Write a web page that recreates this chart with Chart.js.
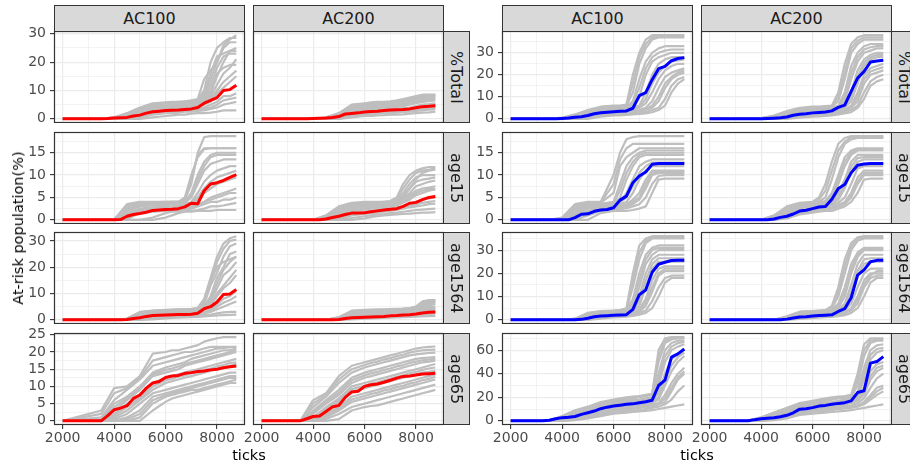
<!DOCTYPE html>
<html>
<head>
<meta charset="utf-8">
<script src="https://cdn.jsdelivr.net/npm/chart.js@4.4.1/dist/chart.umd.min.js"></script>
<style>
  html, body { margin: 0; padding: 0; background: #fff; }
  body { width: 910px; height: 465px; position: relative; overflow: hidden; font-family: "DejaVu Sans", sans-serif; }
  canvas { position: absolute; }
  .strip { position: absolute; box-sizing: border-box; background: #D9D9D9; border: 1px solid #333; color: #1A1A1A;
           font-size: 16px; display: flex; align-items: center; justify-content: center; }
  .strip.side span { writing-mode: vertical-rl; }
  .title { position: absolute; color: #000; font-size: 14.5px; white-space: nowrap; transform: translate(-50%, -50%); }
</style>
</head>
<body>
<script>
/* ---------- facet labels + tick labels ---------- */
const colLabels = ["AC100", "AC200"];
const rowLabels = ["%Total", "age15", "age1564", "age65"];
const xTicks = [2000, 4000, 6000, 8000];
const yTicksLeft  = [[0, 10, 20, 30], [0, 5, 10, 15], [0, 10, 20, 30], [0, 5, 10, 15, 20, 25]];
const yTicksRight = [[0, 10, 20, 30], [0, 5, 10, 15], [0, 10, 20, 30], [0, 20, 40, 60]];

/* ---------- x positions (ticks) ---------- */
const runTicks  = [2000, 3500, 4000, 4500, 5000, 5500, 6000, 6250, 6500, 6750, 7000, 7250, 7500, 7750, 8000, 8250, 8500, 8750];
const meanTicks = [2000, 2250, 2500, 2750, 3000, 3250, 3500, 3750, 4000, 4250, 4500, 4750, 5000, 5250,
                   5500, 5750, 6000, 6250, 6500, 6750, 7000, 7250, 7500, 7750, 8000, 8250, 8500, 8750];

/* ---------- left plot (red mean) ---------- */
const meanL_total_100 = [0,0,0,0,0,0,0,0.1,0.3,0.4,0.5,1.0,1.3,2.0,2.5,2.7,2.9,3.0,3.1,3.3,3.5,4.0,5.5,6.5,7.5,10.0,10.3,11.8];
const runsL_total_100 = [
  [0,0,0.5,2,4,5.5,5.8,6,6,6.2,6.5,7,14,17,20,26,28,29.5],
  [0,0,0,1,3,4.5,5,5,5.2,5.5,5.8,6,8,14,20,25,27,27],
  [0,0,0,0.5,2,3.5,4,4.2,4.5,4.8,5,5.5,6,9,15,20,24,25],
  [0,0,0.2,1.5,3,3.5,3.8,4,4,4.2,4.5,5,6,8,12,16,18,21],
  [0,0,0,0.3,1.5,2.5,3,3.2,3.5,3.6,3.8,4,5,6,9,11,13,15],
  [0,0,0,0,1,2,2.5,2.8,3,3,3.2,3.5,4,5,6,8,8,9],
  [0,0,0,0,0.5,1.5,2,2,2.2,2.5,2.5,2.8,3,3.5,4,5,5.5,6],
  [0,0,0,0,0,0.5,1,1.2,1.5,1.5,1.8,2,2,2.2,2.5,3,3,3],
  [0,0,0.3,1.5,3.5,5,5.5,5.5,5.8,6,6,6.5,9,16,22,23,24,24],
  [0,0,0,0.5,2.5,4,4.5,4.5,4.8,5,5.2,5.5,7,10,16,18,19,19],
  [0,0,0.4,1.8,3.8,5.2,5.6,5.8,6,6.1,6.3,6.8,10,20,25,27,28.5,28.5],
  [0,0,0,0.8,2.8,4.2,4.6,4.8,5,5.2,5.5,6,7,12,18,22,23,23],
  [0,0,0,0.2,1.2,2.8,3.2,3.5,3.8,4,4.2,4.5,5.5,7,10,13,15,17],
  [0,0,0,0,0.8,1.8,2.2,2.4,2.6,2.8,3,3.2,3.5,4,5,6.5,7,7.5]
];
const meanL_total_200 = [0,0,0,0,0,0,0,0,0.1,0.2,0.3,0.5,0.8,1.7,1.9,2.1,2.4,2.6,2.7,2.9,3.1,3.2,3.3,3.5,3.9,4.3,4.4,4.6];
const runsL_total_200 = [
  [0,0,0,0.5,2,5,5.5,5.8,6,6,6.2,6.5,7,7.5,8,8.5,8.5,8.5],
  [0,0,0,0.3,1.5,4.5,5,5,5.2,5.5,5.5,5.8,6,6.5,7.5,8,8,8],
  [0,0,0,0.2,1,3.5,4,4.2,4.5,4.5,4.8,5,5.2,5.5,6.5,7,7.2,7.5],
  [0,0,0,0,0.8,3,3.5,3.6,3.8,4,4,4.2,4.5,5,5.5,6,6.2,6.5],
  [0,0,0,0,0.5,2.5,3,3,3.2,3.3,3.5,3.6,3.8,4,4.5,5,5.2,5.5],
  [0,0,0,0,0.3,2,2.3,2.5,2.5,2.7,2.8,3,3,3.2,3.5,4,4,4.2],
  [0,0,0,0,0,1.2,1.5,1.6,1.8,2,2,2.2,2.4,2.5,2.8,3,3.2,3.3],
  [0,0,0,0,0,0.5,1,1,1.2,1.3,1.5,1.5,1.6,1.8,2,2.2,2.3,2.5],
  [0,0,0,0.3,1.2,4,4.5,4.6,4.8,5,5,5.2,5.5,6,7,7.5,7.8,8],
  [0,0,0,0,0.6,1.8,2,2.2,2.3,2.5,2.6,2.8,3,3.5,4,4.5,4.8,5],
  [0,0,0,0.4,1.8,4.8,5.3,5.4,5.6,5.8,5.9,6.2,6.5,7,7.8,8.2,8.3,8.3],
  [0,0,0,0.1,0.9,3.2,3.8,3.9,4.2,4.3,4.4,4.6,4.8,5.2,6,6.5,6.8,7],
  [0,0,0,0,0.4,2.2,2.7,2.8,2.9,3,3.2,3.3,3.4,3.6,4,4.5,4.6,4.8],
  [0,0,0,0,0.2,1.5,1.8,1.9,2,2.2,2.3,2.5,2.6,2.8,3.2,3.5,3.6,3.8]
];
const meanL_a15_100 = [0,0,0,0,0,0,0,0,0,0.05,0.8,1.2,1.4,1.7,2.1,2.2,2.3,2.35,2.5,2.9,3.7,3.6,6.5,8.0,8.3,8.8,9.5,10.1];
const runsL_a15_100 = [
  [0,0,0,3.5,4,4,4,4,4,4.5,8,15,18.5,18.7,18.7,18.7,18.7,18.7],
  [0,0,0,3,3.8,3.8,3.9,4,4,5,10,14,15.8,16,16,16,16,16],
  [0,0,0,2.5,3.5,3.6,3.7,3.8,3.8,4,6,10,13,14.5,15,15,15,15],
  [0,0,0,2,3,3.2,3.3,3.5,3.6,3.8,5,8,11,12.5,13,13.5,13.5,13.5],
  [0,0,0,1.5,2.5,2.8,3,3,3.2,3.5,4,6,8.5,10,11,11.5,12,12],
  [0,0,0,1,2,2.3,2.5,2.6,2.8,3,3.5,4.5,6,7,8,8.5,9,9.5],
  [0,0,0,0.5,1.8,2,2.2,2.3,2.5,2.6,3,3.5,4,5,5.5,6,6.5,7],
  [0,0,0,0.2,1.5,1.8,2,2,2,2.2,2.5,3,3.5,4,4,4.5,4.5,5],
  [0,0,0,0,0,0.5,1.5,1.8,1.8,2,2,2.2,2.5,3,3,3.2,3.5,3.8],
  [0,0,0,0,0,0,0.5,1,1.5,1.8,1.8,2,2,2,2.2,2.2,2.2,2.2],
  [0,0,0,3.2,3.9,3.9,4,4,4,4.8,9,14.5,16,16,16,16,16,16],
  [0,0,0,2.2,3.2,3.4,3.5,3.6,3.7,4,5.5,9,12,14,14.5,14.5,14.5,14.5],
  [0,0,0,1.2,2.2,2.5,2.7,2.8,3,3.2,3.8,5,7,8.5,9.5,10,10.5,11],
  [0,0,0,0.3,1.6,1.9,2.1,2.2,2.3,2.4,2.8,3.3,4,4.5,5,5.5,6,6]
];
const meanL_a15_200 = [0,0,0,0,0,0,0,0,0,0,0.2,0.5,0.8,1.2,1.5,1.55,1.6,1.8,2.0,2.2,2.35,2.5,3.0,3.7,3.9,4.5,5.0,5.2];
const runsL_a15_200 = [
  [0,0,0,1,3,3.8,4,4,4,4,4.2,5,8,10,11,11.5,11.8,11.8],
  [0,0,0,0.8,2.5,3.5,3.6,3.7,3.8,3.9,4,4.5,6,8,9.5,10,10,10],
  [0,0,0,0.5,2,3,3.2,3.3,3.5,3.6,3.7,4,5,7,8.5,9,9.2,9.5],
  [0,0,0,0.3,1.5,2.5,2.8,3,3,3.2,3.3,3.5,4.5,5.5,6.5,7,7.2,7.5],
  [0,0,0,0,1,2,2.3,2.5,2.6,2.8,3,3.2,3.8,4.5,5.5,6,6.5,6.8],
  [0,0,0,0,0.5,1.5,1.8,2,2.2,2.4,2.5,2.8,3,3.5,4,4.5,4.8,5],
  [0,0,0,0,0.2,1,1.3,1.5,1.6,1.8,2,2.2,2.5,2.8,3,3.2,3.5,3.6],
  [0,0,0,0,0,0.4,0.8,1,1.2,1.3,1.5,1.6,1.8,2,2.2,2.3,2.4,2.5],
  [0,0,0,0,0,0,0.3,0.6,0.8,1,1.1,1.2,1.3,1.4,1.5,1.6,1.6,1.7],
  [0,0,0,0.6,2,3.2,3.5,3.6,3.7,3.8,3.9,4.2,5.5,7,9,10.5,11,11.2],
  [0,0,0,0.9,2.8,3.6,3.8,3.9,3.9,4,4.1,4.8,7,9,10.5,11,11.2,11.5],
  [0,0,0,0.4,1.8,2.8,3,3.1,3.3,3.4,3.5,3.8,4.8,6,7.5,8,8.5,8.8],
  [0,0,0,0.1,1.2,2.2,2.5,2.7,2.8,3,3.1,3.4,4,5,6,6.5,6.8,7],
  [0,0,0,0,0.3,1.2,1.5,1.7,1.9,2,2.2,2.4,2.7,3,3.5,3.8,4,4.2]
];
const meanL_a1564_100 = [0,0,0,0,0,0,0,0,0,0,0.1,0.5,0.8,1.3,1.6,1.7,1.8,1.9,2.0,2.05,2.1,2.5,4.2,5.0,6.8,9.6,9.8,11.5];
const runsL_a1564_100 = [
  [0,0,0,0.5,3,3.5,3.8,3.9,4,4,4.2,4.5,8,16,24,29,31,31.8],
  [0,0,0,0.3,2.5,3.2,3.5,3.6,3.7,3.8,4,4.2,6,13,18,24,28,29],
  [0,0,0,0.2,2,3,3.2,3.3,3.4,3.5,3.6,3.8,5,9,16,20,25,26],
  [0,0,0,0,1.5,2.5,2.8,3,3,3.2,3.3,3.5,4.5,7,12,17,19,22],
  [0,0,0,0,1,2,2.3,2.5,2.6,2.7,2.8,3,4,5.5,9,12,14,17],
  [0,0,0,0,0.5,1.5,1.8,2,2.1,2.2,2.4,2.5,3,4,6,8,9,11],
  [0,0,0,0,0.2,1,1.3,1.5,1.6,1.7,1.8,2,2.5,3,4,5,6,7],
  [0,0,0,0,0,0.5,0.8,1,1.1,1.2,1.3,1.5,1.8,2,2.5,2.8,3,3],
  [0,0,0,0.3,2.8,3.4,3.6,3.8,3.9,4,4.1,4.4,7,15,20,22,23,24],
  [0,0,0,0,0,0.2,0.5,0.7,0.8,0.9,1,1.1,1.3,1.5,1.7,1.8,1.9,2],
  [0,0,0,0.4,2.7,3.3,3.6,3.7,3.8,3.9,4,4.3,6.5,14,22,27,30,30.5],
  [0,0,0,0.1,1.8,2.8,3,3.2,3.3,3.4,3.5,3.7,4.8,8,14,19,22,24],
  [0,0,0,0,1.2,2.2,2.5,2.7,2.8,2.9,3,3.2,4.2,6,10,13,16,19],
  [0,0,0,0,0.3,1.2,1.5,1.7,1.8,1.9,2,2.2,2.8,3.5,5,6.5,7.5,9]
];
const meanL_a1564_200 = [0,0,0,0,0,0,0,0,0,0,0,0,0.1,0.5,0.8,0.9,1.0,1.1,1.2,1.3,1.5,1.6,1.8,1.9,2.2,2.6,2.9,3.0];
const runsL_a1564_200 = [
  [0,0,0,0,1,3.5,3.8,3.9,4,4,4.1,4.2,4.3,4.5,5,7,7.5,7.5],
  [0,0,0,0,0.8,3,3.3,3.4,3.5,3.6,3.7,3.8,4,4.2,4.8,6,6.5,7],
  [0,0,0,0,0.5,2.5,2.8,3,3,3.1,3.2,3.3,3.5,3.8,4,5,5.5,6],
  [0,0,0,0,0.3,2,2.3,2.4,2.5,2.6,2.7,2.8,3,3.2,3.5,4.5,4.8,5],
  [0,0,0,0,0.2,1.5,1.8,1.9,2,2.1,2.2,2.3,2.5,2.7,3,3.5,3.8,4],
  [0,0,0,0,0,1,1.3,1.4,1.5,1.6,1.7,1.8,2,2.2,2.5,2.8,3,3.2],
  [0,0,0,0,0,0.5,0.8,0.9,1,1.1,1.2,1.3,1.4,1.6,1.8,2,2.2,2.4],
  [0,0,0,0,0,0.2,0.4,0.5,0.6,0.7,0.8,0.9,1,1.1,1.2,1.3,1.4,1.5],
  [0,0,0,0,0.7,2.8,3.1,3.2,3.3,3.4,3.5,3.6,3.8,4,4.5,6.5,7,7.2],
  [0,0,0,0,0.1,1.2,1.5,1.6,1.7,1.8,1.9,2,2.2,2.4,2.7,3.2,3.5,3.8],
  [0,0,0,0,0.9,3.2,3.5,3.6,3.7,3.8,3.9,4,4.2,4.4,4.9,6.5,7.2,7.3],
  [0,0,0,0,0.6,2.7,3,3.2,3.2,3.3,3.4,3.5,3.7,4,4.4,5.5,6,6.5],
  [0,0,0,0,0.3,1.8,2,2.2,2.2,2.3,2.4,2.5,2.8,3,3.2,4,4.3,4.5],
  [0,0,0,0,0,0.8,1,1.1,1.2,1.3,1.4,1.5,1.7,1.9,2.1,2.4,2.6,2.8]
];
const meanL_a65_100 = [0,0,0,0,0,0,0,1.5,3.2,3.7,4.4,6.5,7.5,9.5,11.0,11.4,12.6,13.0,13.2,13.8,14.0,14.3,14.5,14.8,15.0,15.4,15.7,15.9];
const runsL_a65_100 = [
  [0,3,9.5,10,13,19.5,20,20.5,20.5,21,21.5,22,23,23.5,24,24.3,24.3,24.3],
  [0,1,6,9,12,16,17,17.5,18,18.5,19,19.5,20,20.5,21,21.2,21.3,21.5],
  [0,0.5,5,7,10,14,15.5,16,16.5,17,18,18.5,19,19.5,20,20.5,20.5,21],
  [0,0,3,6,9,13,14,14.5,15,16,16.5,17,17.5,18,18.5,19,19.5,20],
  [0,0,2,5,7,11,12.5,13,13.5,14,14.5,15,15.5,16,16.5,17,17.5,18],
  [0,0,1,3,6,9,11,11.5,12,12.5,13,13.5,14,14.5,15,15.5,16,16.5],
  [0,0,0.5,2,5,8,9,9.5,10,10.5,11,11.5,12,12.5,13,13.5,14,14],
  [0,0,0,1,3,7,8,8.5,9,9.5,10,10.5,11,11.5,12,12.5,13,13],
  [0,0,0,0,1,5,7,7.5,8,8.5,9,9,9.5,10,10.5,11,11.5,12],
  [0,0,0,0,0,3,5.5,6.5,7,7.5,8,8.5,9,9.5,10,10.5,11,11],
  [0,2,8,9.5,12.5,17.5,18.5,19,19.5,20,20,20.5,21,21.5,21.5,21.5,21.5,21.5],
  [0,0.2,4,6.5,9.5,13.5,14.8,15.2,15.8,16.5,17,17.5,18,18.5,19,19.5,20,20.5],
  [0,0,1.5,4,6.5,10,11.8,12.2,12.8,13.2,13.8,14.2,14.8,15.2,15.8,16.2,16.8,17],
  [0,0,0,0.5,2,6,7.5,8,8.5,9,9.5,10,10.5,11,11.5,12,12.5,12.5]
];
const meanL_a65_200 = [0,0,0,0,0,0,0,0.6,1.25,1.4,2.7,4.0,4.5,6.8,8.4,8.6,10.0,10.5,10.7,11.2,11.8,12.4,12.9,13.0,13.3,13.6,13.7,13.8];
const runsL_a65_200 = [
  [0,0,6,8,13,16,17,17.5,18,18.5,19,19.5,20,20.5,21,21.3,21.5,21.6],
  [0,0,4,7,11,14,15.5,16,16.5,17,17.5,18,18.5,19,19.3,19.5,19.7,19.8],
  [0,0,3,6,9,12.5,14,14.5,15,15.5,16,16.5,17,17.5,18,18.2,18.4,18.5],
  [0,0,2,5,7.5,11,12.5,13,13.5,14,14.5,15,15.5,16,16.5,17,17.2,17.5],
  [0,0,1,4,6.5,10,11,11.5,12,12.5,13,13.5,14,14.5,15,15.5,16,16.5],
  [0,0,0.5,3,5.5,8.5,9.5,10,10.5,11,11.5,12,12.5,13,13.5,14,14.2,14.5],
  [0,0,0,2,4,7,8,8.5,9,9.5,10,10.5,11,11.5,12,12.5,13,13.5],
  [0,0,0,1,3,5.5,6.5,7,7.5,8,8.5,9,9.5,10,10.5,11,11.5,12],
  [0,0,0,0.5,2,4,5,5.5,6,6.5,7,7.5,8,8.5,9,9.5,10,10.5],
  [0,0,0,0,0.5,3,4,4.3,4.5,5,5.5,6,6.5,7,7.5,8,8.5,9],
  [0,0,5,7.5,12,15,16.2,16.8,17.2,17.8,18.2,18.8,19.2,19.8,20.2,20.5,20.6,20.7],
  [0,0,2.5,5.5,8.2,11.8,13.2,13.8,14.2,14.8,15.2,15.8,16.2,16.8,17.2,17.6,17.8,18],
  [0,0,0.8,3.5,6,9.2,10.2,10.8,11.2,11.8,12.2,12.8,13.2,13.8,14.2,14.8,15.2,15.5],
  [0,0,0,1.5,3.5,6.2,7.2,7.8,8.2,8.8,9.2,9.8,10.2,10.8,11.2,11.8,12.2,12.8]
];

/* ---------- right plot (blue mean) ---------- */
const meanR_total_100 = [0,0,0,0,0,0,0,0.05,0.2,0.35,0.7,0.9,1.5,2.3,2.8,3.0,3.2,3.4,3.6,4.8,10.5,11.9,17.8,22.8,23.8,26.4,27.4,27.8];
const runsR_total_100 = [
  [0,0,0.5,2,4,5.5,6,6,6.5,20,30,36,38,38,38,38,38,38],
  [0,0,0.3,1.5,3.5,5,5.5,5.5,6,12,25,32,36,37,37,37,37,37],
  [0,0,0.2,1,3,4.5,5,5,5.5,8,18,26,30,32,33,33,33,33],
  [0,0,0,0.8,2.5,4,4.5,4.6,5,6,10,20,26,28,29,30,30,30],
  [0,0,0,0.5,2,3.5,4,4.2,4.5,5,6,12,20,25,27,28,28,28],
  [0,0,0,0.3,1.5,3,3.5,3.6,3.8,4.2,5,7,12,18,22,24,25,25],
  [0,0,0,0.2,1,2.5,3,3.1,3.3,3.5,4,5,8,14,19,21,22,23],
  [0,0,0,0,0.5,2,2.5,2.6,2.8,3,3.2,4,5,8,14,18,20,21],
  [0,0,0,0,0.3,1.5,2,2.1,2.2,2.5,2.8,3,4,5,9,15,18,19],
  [0,0,0,0,0,1,1.5,1.6,1.8,2,2.2,2.5,3,4,6,12,16,18],
  [0,0,0.4,1.8,3.8,5.2,5.8,5.8,6.2,16,28,34,37,37.5,37.5,37.5,37.5,37.5],
  [0,0,0.1,0.9,2.8,4.2,4.8,4.8,5.2,7,14,23,28,30,31,31.5,31.5,31.5],
  [0,0,0,0.4,1.8,3.2,3.8,3.9,4.1,4.6,5.5,9,16,21,24,26,26.5,27],
  [0,0,0,0.1,0.8,2.2,2.8,2.9,3,3.2,3.6,4.5,6,10,16,19,21,22]
];
const meanR_total_200 = [0,0,0,0,0,0,0,0,0.05,0.15,0.3,0.5,0.8,1.6,2.1,2.3,2.7,2.9,3.1,3.6,5.2,6.2,12.5,18.5,21.5,25.8,26.3,26.6];
const runsR_total_200 = [
  [0,0,0.3,1.5,3.5,5,5.5,5.5,5.8,6,12,25,34,37,38,38,38,38],
  [0,0,0.2,1.2,3,4.5,5,5,5.3,5.5,8,18,30,34,36,36,36,36],
  [0,0,0,1,2.5,4,4.5,4.6,4.8,5,6,12,24,30,33,34,34,34],
  [0,0,0,0.8,2,3.5,4,4.1,4.3,4.5,5,8,18,26,30,31,32,32],
  [0,0,0,0.5,1.5,3,3.5,3.6,3.8,4,4.5,6,12,22,27,29,30,30],
  [0,0,0,0.3,1,2.5,3,3.1,3.3,3.5,4,5,8,16,24,27,28,28],
  [0,0,0,0.2,0.8,2,2.5,2.6,2.8,3,3.5,4,6,12,20,23,24,25],
  [0,0,0,0,0.5,1.5,2,2.1,2.3,2.5,3,3.5,5,8,16,20,21,22],
  [0,0,0,0,0.3,1,1.5,1.6,1.8,2,2.5,3,4,6,12,17,19,20],
  [0,0,0,0,0,0.5,1,1.1,1.3,1.5,2,2.5,3,5,9,15,17,18],
  [0,0,0.2,1.4,3.2,4.8,5.2,5.2,5.5,5.8,10,21,32,35.5,37,37,37,37],
  [0,0,0,0.9,2.2,3.8,4.2,4.4,4.6,4.8,5.5,10,21,28,31.5,32.5,33,33],
  [0,0,0,0.4,1.2,2.8,3.2,3.4,3.6,3.8,4.2,5.5,10,19,25.5,28,29,29],
  [0,0,0,0.1,0.6,1.8,2.2,2.4,2.6,2.8,3.2,3.8,5.5,10,18,21.5,22.5,23.5]
];
const meanR_a15_100 = [0,0,0,0,0,0,0,0,0,0,0.5,1.25,1.35,1.9,2.2,2.3,2.7,4.4,5.3,8.3,9.8,10.7,12.4,12.6,12.6,12.6,12.6,12.6];
const runsR_a15_100 = [
  [0,0,0.5,3.5,4,4,10,15,18,18.5,18.7,18.7,18.7,18.7,18.7,18.7,18.7,18.7],
  [0,0,0.3,3,3.8,3.8,6,12,14,15,16,16,16,16,16,16,16,16],
  [0,0,0,2.5,3.5,3.6,4,8,12,14,15,15.5,15.5,15.5,15.5,15.5,15.5,15.5],
  [0,0,0,2,3.2,3.4,3.6,5,9,12,14,14.5,14.5,14.5,14.5,14.5,14.5,14.5],
  [0,0,0,1.5,3,3.2,3.4,4,6,9,12,13,13.5,13.5,13.5,13.5,13.5,13.5],
  [0,0,0,1,2.5,2.8,3,3.5,4,6,9,11,12,12,12,12,12,12],
  [0,0,0,0.5,2,2.5,2.8,3,3.5,4.5,6,9,11,11,11,11,11,11],
  [0,0,0,0,1.5,2.2,2.5,2.8,3,3.5,4.5,7,10,10.5,10.5,10.5,10.5,10.5],
  [0,0,0,0,1,2,2.2,2.4,2.6,3,3.5,5,8,9.8,10,10,10,10],
  [0,0,0,0,0,1.5,2,2,2,2.2,2.5,3,6,9,9.2,9.2,9.2,9.2],
  [0,0,0.4,3.2,3.9,3.9,8,13.5,16,17,17,17,17,17,17,17,17,17],
  [0,0,0,2.2,3.4,3.5,3.8,6.5,10.5,13,14.5,15,15,15,15,15,15,15],
  [0,0,0,1.2,2.8,3,3.2,3.8,5,7.5,10.5,12,12.8,12.8,12.8,12.8,12.8,12.8],
  [0,0,0,0.2,1.8,2.4,2.6,2.9,3.2,4,5,8,10.5,10.8,10.8,10.8,10.8,10.8]
];
const meanR_a15_200 = [0,0,0,0,0,0,0,0,0,0,0.2,0.55,0.8,1.3,1.95,2.15,2.5,2.85,3.0,4.6,7.0,7.9,10.5,12.2,12.5,12.6,12.6,12.6];
const runsR_a15_200 = [
  [0,0,0,1,3,3.8,4,5,8,13,17,18.3,18.7,18.7,18.7,18.7,18.7,18.7],
  [0,0,0,0.8,2.5,3.5,3.8,4,5,9,14,17,18,18.3,18.3,18.3,18.3,18.3],
  [0,0,0,0.5,2,3.2,3.5,3.8,4.2,6,10,14,15.5,16,16,16,16,16],
  [0,0,0,0.3,1.8,3,3.3,3.5,3.8,5,8,12,14.5,15.5,15.5,15.5,15.5,15.5],
  [0,0,0,0,1.5,2.7,3,3.2,3.5,4,6,9,13,14.5,14.5,14.5,14.5,14.5],
  [0,0,0,0,1.2,2.5,2.8,3,3.2,3.5,4.5,7,11,13,13.5,13.5,13.5,13.5],
  [0,0,0,0,1,2.2,2.5,2.7,3,3.2,3.8,5,8,11.5,12,12,12,12],
  [0,0,0,0,0.8,2,2.2,2.4,2.6,2.8,3.3,4,6,9.5,11,11,11,11],
  [0,0,0,0,0.5,1.5,2,2.2,2.3,2.5,3,3.5,5,8,10,10,10,10],
  [0,0,0,0,0.3,1.2,1.6,1.8,2,2,2.5,3,4,6,9,9.2,9.2,9.2],
  [0,0,0,0.9,2.8,3.6,3.9,4.5,6.5,11,15.5,17.5,18.5,18.5,18.5,18.5,18.5,18.5],
  [0,0,0,0.4,1.9,3.1,3.4,3.6,4,5.5,9,13,15,15.8,15.8,15.8,15.8,15.8],
  [0,0,0,0,1.3,2.6,2.9,3.1,3.4,3.8,5,8,12,13.8,14,14,14,14],
  [0,0,0,0,0.6,1.8,2.1,2.3,2.5,2.7,3.2,3.8,5.5,8.5,10.5,10.5,10.5,10.5]
];
const meanR_a1564_100 = [0,0,0,0,0,0,0,0,0,0,0.05,0.2,0.7,1.3,1.65,1.8,1.95,2.05,2.2,4.5,10.8,12.8,20.5,23.9,24.8,25.5,25.6,25.6];
const runsR_a1564_100 = [
  [0,0,0,0.5,3,3.8,4,4.2,5,20,32,35,36,36,36,36,36,36],
  [0,0,0,0.3,2.5,3.5,3.8,4,4.5,14,26,33,35,35,35,35,35,35],
  [0,0,0,0,2,3.2,3.5,3.7,4,9,20,28,31,32,32,32,32,32],
  [0,0,0,0,1.5,2.8,3.2,3.4,3.7,6,14,24,28,30,30,30,30,30],
  [0,0,0,0,1.2,2.5,2.8,3,3.3,4.5,10,20,26,28,28,28,28,28],
  [0,0,0,0,1,2.2,2.5,2.7,3,3.5,6,14,22,25,25,25,25,25],
  [0,0,0,0,0.8,1.8,2.2,2.4,2.7,3,4.5,9,17,22,23,23,23,23],
  [0,0,0,0,0.5,1.5,1.8,2,2.3,2.5,3.5,6,12,19,21,21,21,21],
  [0,0,0,0,0.3,1,1.4,1.6,1.9,2.2,3,4,8,14,18,19,19,19],
  [0,0,0,0,0,0.5,1,1.2,1.4,1.7,2.2,3,5,10,16,18,18,18],
  [0,0,0,0.4,2.8,3.6,3.9,4.1,4.8,17,29,34,35.5,35.5,35.5,35.5,35.5,35.5],
  [0,0,0,0,1.8,3,3.4,3.6,3.8,7,17,26,30,31,31,31,31,31],
  [0,0,0,0,1.1,2.3,2.6,2.8,3.1,4,8,17,24,26.5,26.5,26.5,26.5,26.5],
  [0,0,0,0,0.6,1.6,2,2.2,2.5,2.8,4,7.5,14,20,22,22,22,22]
];
const meanR_a1564_200 = [0,0,0,0,0,0,0,0,0,0,0,0.05,0.3,0.8,1.2,1.3,1.6,1.85,2.0,2.15,3.6,4.8,9.5,19.2,21.5,25.0,25.6,25.6];
const runsR_a1564_200 = [
  [0,0,0,0,1.5,3.5,3.8,4,4.2,6,14,26,33,35.5,36,36,36,36],
  [0,0,0,0,1.2,3.2,3.5,3.7,4,5,10,20,30,34,35,35,35,35],
  [0,0,0,0,1,2.8,3.2,3.4,3.7,4.2,7,14,24,29,31,31,31,31],
  [0,0,0,0,0.8,2.5,2.8,3,3.3,3.8,5,10,20,27,30,30,30,30],
  [0,0,0,0,0.6,2.2,2.5,2.7,3,3.4,4.2,7,15,24,28,28,28,28],
  [0,0,0,0,0.4,1.8,2.2,2.4,2.7,3,3.6,5,10,19,24,25,25,25],
  [0,0,0,0,0.3,1.5,1.8,2,2.3,2.6,3.1,4,7,14,20,22,22,22],
  [0,0,0,0,0.2,1.2,1.5,1.7,2,2.2,2.6,3.2,5,10,17,20,20,20],
  [0,0,0,0,0,0.8,1.1,1.3,1.6,1.8,2.2,2.8,4,7,14,18,19,19],
  [0,0,0,0,0,0.4,0.7,0.9,1.1,1.3,1.6,2,3,5,10,16,18,18],
  [0,0,0,0,1.4,3.4,3.7,3.9,4.1,5.5,12,23,31.5,35,35.5,35.5,35.5,35.5],
  [0,0,0,0,0.9,2.7,3,3.2,3.5,4,6,12,22,28,30.5,30.5,30.5,30.5],
  [0,0,0,0,0.5,2,2.3,2.5,2.8,3.2,3.9,6,12,21,26,26.5,26.5,26.5],
  [0,0,0,0,0.1,1,1.3,1.5,1.8,2,2.4,3,4.5,8.5,15.5,19,21,21]
];
const meanR_a65_100 = [0,0,0,0,0,0,0.5,1.8,2.7,3.1,3.7,5.5,6.9,8.3,10.3,11.6,12.5,13.3,14.0,14.4,15.3,16.2,17.5,30.0,34.5,54.0,56.8,61.0];
const runsR_a65_100 = [
  [0,0.5,4,9,12,16,18,19,20,20.5,21,22,23,60,70,71,71,71],
  [0,0.3,3,7,10,14,16,17,18,19,20,21,22,50,66,69,70,70],
  [0,0,2.5,6,9,13,15,16,17,17.5,18,19,20,40,60,66,68,68],
  [0,0,2,5,8,12,14,14.5,15,16,16.5,17,18,30,50,60,63,65],
  [0,0,1.5,4,7,11,12.5,13,13.5,14,15,15.5,16,24,40,52,57,60],
  [0,0,1,3,6,10,11,11.5,12,13,13.5,14,15,18,30,42,50,55],
  [0,0,0.5,2.5,5,8,9.5,10,11,11.5,12,13,14,15,22,32,40,45],
  [0,0,0,2,4,7,8.5,9,9.5,10,11,11.5,12,14,16,25,35,40],
  [0,0,0,1,3,5.5,7,7.5,8,8.5,9,10,11,12,14,18,25,30],
  [0,0,0,0.5,2,4,6,6.5,7,7.5,8,8.5,9,10,11,12,13,14],
  [0,0.4,3.5,8,11,15,17,18,19,19.5,20.5,21.5,22.5,55,68,70,70.5,70.5],
  [0,0,2.2,5.5,8.5,12.5,14.5,15,16,16.8,17,18,19,35,55,63,66,67],
  [0,0,1.2,3.5,6.5,10.5,11.8,12.2,12.8,13.5,14,14.8,15.5,20,35,47,54,58],
  [0,0,0.2,2.2,4.5,7.5,9,9.5,10,10.8,11.5,12,13,14.5,19,28,37,42]
];
const meanR_a65_200 = [0,0,0,0,0,0,0,1.0,1.7,2.1,2.6,3.5,4.7,6.8,9.9,10.2,11.2,12.5,13.1,14.0,14.8,15.4,16.9,24.0,25.5,49.0,50.3,54.5];
const runsR_a65_200 = [
  [0,0.3,3,7,11,15,17,18,19,20,20.5,21,22,40,65,70,70,70],
  [0,0,2.5,6,9.5,13.5,15.5,16.5,17,18,19,19.5,20,30,55,66,68,68],
  [0,0,2,5,8.5,12.5,14,15,15.5,16,17,18,19,24,45,60,64,65],
  [0,0,1.5,4.5,7.5,11.5,13,14,14.5,15,16,16.5,17,20,35,52,58,60],
  [0,0,1,4,7,10.5,12,12.5,13,14,14.5,15,16,18,28,42,48,50],
  [0,0,0.8,3,6,9.5,11,11.5,12,12.5,13,14,15,17,22,35,42,45],
  [0,0,0.5,2.5,5,8.5,10,10.5,11,11.5,12,12.5,13,15,19,28,36,40],
  [0,0,0,2,4,7.5,9,9.5,10,10.5,11,11.5,12,13,16,22,28,30],
  [0,0,0,1,3,6,7.5,8,8.5,9,10,10.5,11,12,14,18,22,25],
  [0,0,0,0.5,2,5,6,6.5,7,7.5,8,8.5,9,10,11,12,13,14],
  [0,0.2,2.8,6.5,10,14,16,17,18,19,19.8,20.2,21,35,60,68,69,69],
  [0,0,1.8,4.8,8,12,13.5,14.5,15,15.5,16.5,17,18,22,40,56,61,62],
  [0,0,0.9,3.5,6.5,10,11.5,12,12.5,13,13.8,14.5,15.5,17.5,25,38,45,47],
  [0,0,0.2,1.5,3.5,7,8.2,8.8,9.2,9.8,10.5,11,11.5,12.5,15,20,25,28]
];

/* ---------- facet table ---------- */
const facets = [
  { side: 0, row: 0, col: 0, runs: runsL_total_100, mean: meanL_total_100 },
  { side: 0, row: 0, col: 1, runs: runsL_total_200, mean: meanL_total_200 },
  { side: 0, row: 1, col: 0, runs: runsL_a15_100,   mean: meanL_a15_100 },
  { side: 0, row: 1, col: 1, runs: runsL_a15_200,   mean: meanL_a15_200 },
  { side: 0, row: 2, col: 0, runs: runsL_a1564_100, mean: meanL_a1564_100 },
  { side: 0, row: 2, col: 1, runs: runsL_a1564_200, mean: meanL_a1564_200 },
  { side: 0, row: 3, col: 0, runs: runsL_a65_100,   mean: meanL_a65_100 },
  { side: 0, row: 3, col: 1, runs: runsL_a65_200,   mean: meanL_a65_200 },
  { side: 1, row: 0, col: 0, runs: runsR_total_100, mean: meanR_total_100 },
  { side: 1, row: 0, col: 1, runs: runsR_total_200, mean: meanR_total_200 },
  { side: 1, row: 1, col: 0, runs: runsR_a15_100,   mean: meanR_a15_100 },
  { side: 1, row: 1, col: 1, runs: runsR_a15_200,   mean: meanR_a15_200 },
  { side: 1, row: 2, col: 0, runs: runsR_a1564_100, mean: meanR_a1564_100 },
  { side: 1, row: 2, col: 1, runs: runsR_a1564_200, mean: meanR_a1564_200 },
  { side: 1, row: 3, col: 0, runs: runsR_a65_100,   mean: meanR_a65_100 },
  { side: 1, row: 3, col: 1, runs: runsR_a65_200,   mean: meanR_a65_200 }
];

/* ---------- layout ---------- */
const PAD = 14, TOP = 8, AXW = 50, AXH = 24, PW = 191, PH = 92;
const colLefts = [[54, 253], [502, 701]];
const rowTops = [31, 132, 232, 333];
const meanColors = ["#FF0000", "#0000FF"];

Chart.defaults.font.family = "'DejaVu Sans', sans-serif";
Chart.defaults.animation = false;

// ggplot-like limits: data range padded 5% each side
function limits(vals) {
    const lo = Math.min(...vals), hi = Math.max(...vals);
    const pad = (hi - lo) * 0.05;
    return [lo - pad, hi + pad];
}

// majors plus minor lines halfway between them (and just outside, if inside limits)
function gridValues(majors, lo, hi) {
    const step = majors[1] - majors[0];
    const all = [];
    for (let i = 0; i < majors.length; i++) {
        all.push(majors[i]);
        all.push(majors[i] + step / 2);
    }
    all.push(majors[0] - step / 2);
    return all.filter(v => v >= lo && v <= hi).sort((a, b) => a - b);
}

const xLim = limits([...runTicks, ...meanTicks]);
const yLim = [0, 1].map(side => [0, 1, 2, 3].map(row => {
    const vals = [];
    facets.filter(f => f.side === side && f.row === row).forEach(f => {
        vals.push(...f.mean);
        f.runs.forEach(r => vals.push(...r));
    });
    return limits(vals);
}));

const panelBorder = {
    id: "panelBorder",
    afterDraw(chart) {
        const { ctx, chartArea: a } = chart;
        ctx.save();
        ctx.strokeStyle = "#333333";
        ctx.lineWidth = 1.2;
        ctx.strokeRect(a.left + 0.5, a.top + 0.5, a.right - a.left - 1, a.bottom - a.top - 1);
        ctx.restore();
    }
};

function axisOptions(lim, majors, showLabels, isX, size) {
    const grid = gridValues(majors, lim[0], lim[1]);
    const isMajor = v => majors.includes(v);
    return {
        type: "linear",
        min: lim[0],
        max: lim[1],
        afterBuildTicks: s => { s.ticks = grid.map(v => ({ value: v })); },
        afterFit: s => {
            if (isX) s.height = size; else s.width = size;
            s.paddingTop = 0; s.paddingBottom = 0; s.paddingLeft = 0; s.paddingRight = 0;
        },
        ticks: {
            display: showLabels,
            autoSkip: false,
            maxRotation: 0,
            minRotation: 0,
            padding: isX ? 1 : 4,
            color: "#4D4D4D",
            font: { size: 14 },
            callback: v => isMajor(v) ? String(v) : ""
        },
        grid: {
            color: "#EBEBEB",
            lineWidth: c => (c.tick && isMajor(c.tick.value)) ? 1.2 : 0.6,
            drawTicks: showLabels,
            tickLength: 4,
            tickWidth: 1.1,
            tickColor: c => (c.tick && isMajor(c.tick.value)) ? "#333333" : "rgba(0,0,0,0)"
        },
        border: { display: false }
    };
}

facets.forEach(f => {
    const showY = f.col === 0;
    const showX = f.row === 3;
    const axW = showY ? AXW : 0;
    const axH = showX ? AXH : 0;
    const pl = colLefts[f.side][f.col];
    const pt = rowTops[f.row];

    const canvas = document.createElement("canvas");
    canvas.width = PAD + axW + PW + PAD;
    canvas.height = TOP + PH + axH;
    canvas.style.left = (pl - axW - PAD) + "px";
    canvas.style.top = (pt - TOP) + "px";
    document.body.appendChild(canvas);

    const yMajors = (f.side === 0 ? yTicksLeft : yTicksRight)[f.row];

    const datasets = [{
        data: meanTicks.map((x, i) => ({ x, y: f.mean[i] })),
        borderColor: meanColors[f.side],
        borderWidth: 3
    }];
    f.runs.forEach(run => {
        datasets.push({
            data: runTicks.map((x, i) => ({ x, y: run[i] })),
            borderColor: "#BEBEBE",
            borderWidth: 2.2
        });
    });

    new Chart(canvas, {
        type: "line",
        data: { datasets },
        options: {
            responsive: false,
            devicePixelRatio: 1,
            layout: { padding: { left: PAD, right: PAD, top: TOP, bottom: 0 }, autoPadding: false },
            elements: {
                point: { radius: 0, hoverRadius: 0 },
                line: { tension: 0, fill: false, borderJoinStyle: "round", borderCapStyle: "butt" }
            },
            plugins: { legend: { display: false }, tooltip: { enabled: false } },
            events: [],
            scales: {
                x: axisOptions(xLim, xTicks, showX, true, axH),
                y: axisOptions(yLim[f.side][f.row], yMajors, showY, false, axW)
            }
        },
        plugins: [panelBorder]
    });
});

/* ---------- strips + titles ---------- */
function addDiv(cls, text, left, top, width, height) {
    const d = document.createElement("div");
    d.className = cls;
    if (width !== undefined) {
        d.style.width = width + "px";
        d.style.height = height + "px";
    }
    d.style.left = left + "px";
    d.style.top = top + "px";
    const s = document.createElement("span");
    s.textContent = text;
    d.appendChild(s);
    document.body.appendChild(d);
    return d;
}

[0, 1].forEach(side => {
    colLabels.forEach((lab, c) => addDiv("strip", lab, colLefts[side][c], 5, PW, 27));
    rowLabels.forEach((lab, r) => addDiv("strip side", lab, colLefts[side][1] + PW - 1, rowTops[r], 27, PH));
    const mid = (colLefts[side][0] + colLefts[side][1] + PW) / 2;
    addDiv("title", "ticks", mid, 455);
});
const yt = addDiv("title", "At-risk population(%)", 18, 228);
yt.style.transform = "translate(-50%, -50%) rotate(-90deg)";
</script>
</body>
</html>
